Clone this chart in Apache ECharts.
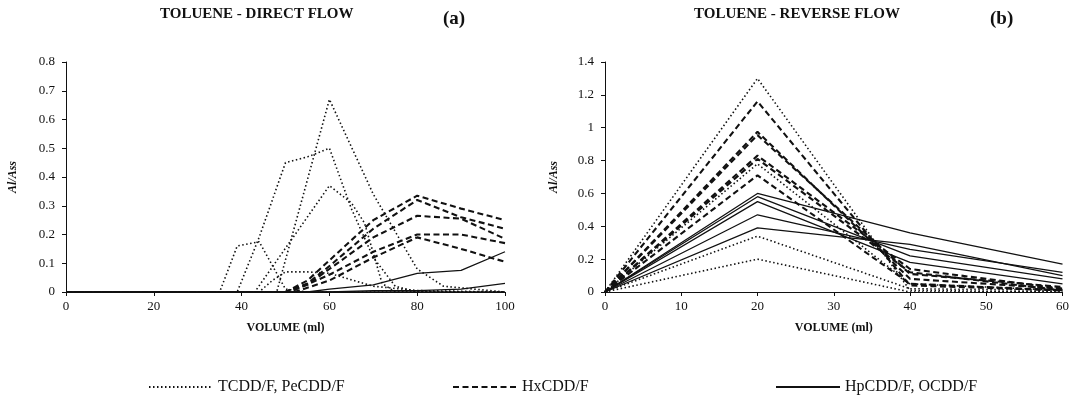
<!DOCTYPE html>
<html>
<head>
<meta charset="utf-8">
<title>Toluene flow</title>
<script src="https://cdn.jsdelivr.net/npm/echarts@6/dist/echarts.min.js"></script>
<style>
  html, body { margin: 0; padding: 0; background: #fff; }
  #chart { width: 1072px; height: 418px; }
</style>
</head>
<body>
<div id="chart"></div>
<script>
// (a) direct flow - [volume, Al/Ass] pairs
const aTcdd1 = [[0, 0], [35, 0], [39, 0.16], [44, 0.175], [50, 0.01], [55, 0], [100, 0]]
const aTcdd2 = [[0, 0], [39, 0], [44, 0.19], [50, 0.45], [55, 0.47], [60, 0.5], [65, 0.29], [70, 0.12], [75, 0.02], [80, 0], [100, 0]]
const aTcdd3 = [[0, 0], [48, 0], [60, 0.67], [70, 0.34], [80, 0.08], [86, 0.02], [100, 0]]
const aTcdd4 = [[0, 0], [43, 0], [60, 0.37], [65, 0.31], [68, 0.24], [72, 0.03], [75, 0], [100, 0]]
const aTcdd5 = [[0, 0], [44, 0], [47, 0.04], [50, 0.07], [55, 0.07], [60, 0.065], [70, 0.02], [80, 0.005], [100, 0]]

const aHx1 = [[0, 0], [50, 0], [55, 0.04], [60, 0.11], [70, 0.25], [80, 0.335], [90, 0.29], [100, 0.25]]
const aHx2 = [[0, 0], [50, 0], [55, 0.03], [60, 0.09], [70, 0.22], [80, 0.32], [90, 0.26], [100, 0.22]]
const aHx3 = [[0, 0], [50, 0], [55, 0.025], [60, 0.08], [70, 0.19], [80, 0.265], [90, 0.255], [100, 0.185]]
const aHx4 = [[0, 0], [51, 0], [60, 0.06], [70, 0.14], [80, 0.2], [90, 0.2], [100, 0.17]]
const aHx5 = [[0, 0], [52, 0], [60, 0.04], [70, 0.12], [80, 0.19], [90, 0.15], [100, 0.105]]

const aHp1 = [[0, 0], [55, 0], [60, 0.01], [70, 0.025], [80, 0.065], [90, 0.075], [100, 0.14]]
const aHp2 = [[0, 0], [60, 0], [70, 0.005], [80, 0.005], [90, 0.01], [100, 0.03]]
const aHp3 = [[0, 0], [100, 0]]

// (b) reverse flow - same volumes for every series
const volB = [0, 20, 40, 60]
const bTcdd1 = [0, 1.3, 0.01, 0]
const bTcdd2 = [0, 0.78, 0.05, 0.01]
const bTcdd3 = [0, 0.34, 0.02, 0.01]
const bTcdd4 = [0, 0.2, 0, 0]

const bHx1 = [0, 1.16, 0.04, 0.01]
const bHx2 = [0, 0.975, 0.08, 0.02]
const bHx3 = [0, 0.955, 0.11, 0.03]
const bHx4 = [0, 0.83, 0.14, 0.02]
const bHx5 = [0, 0.81, 0.12, 0.01]
const bHx6 = [0, 0.71, 0.05, 0.01]

const bHp1 = [0, 0.6, 0.36, 0.17]
const bHp2 = [0, 0.58, 0.22, 0.08]
const bHp3 = [0, 0.55, 0.18, 0.05]
const bHp4 = [0, 0.47, 0.26, 0.12]
const bHp5 = [0, 0.39, 0.29, 0.1]

const names = ['TCDD/F, PeCDD/F', 'HxCDD/F', 'HpCDD/F, OCDD/F']

const FONT = 'Liberation Serif'
const INK = '#111'

const styles = {
  dot: { color: INK, width: 1.6, type: [1.5, 2.5] },
  dash: { color: INK, width: 2.1, type: [6, 3.5] },
  solid: { color: INK, width: 1.3, type: 'solid' }
}

function mkSeries(name, kind, grid, data){
  return {
    name: name,
    type: 'line',
    xAxisIndex: grid,
    yAxisIndex: grid,
    data: data,
    symbol: 'none',
    silent: true,
    lineStyle: styles[kind],
    itemStyle: { color: INK }
  }
}

function pairUp(ys){
  return volB.map((v, i) => [v, ys[i]])
}

const seriesArr = []
;[aTcdd1, aTcdd2, aTcdd3, aTcdd4, aTcdd5].forEach(d => seriesArr.push(mkSeries(names[0], 'dot', 0, d)))
;[aHx1, aHx2, aHx3, aHx4, aHx5].forEach(d => seriesArr.push(mkSeries(names[1], 'dash', 0, d)))
;[aHp1, aHp2, aHp3].forEach(d => seriesArr.push(mkSeries(names[2], 'solid', 0, d)))
;[bTcdd1, bTcdd2, bTcdd3, bTcdd4].forEach(d => seriesArr.push(mkSeries(names[0], 'dot', 1, pairUp(d))))
;[bHx1, bHx2, bHx3, bHx4, bHx5, bHx6].forEach(d => seriesArr.push(mkSeries(names[1], 'dash', 1, pairUp(d))))
;[bHp1, bHp2, bHp3, bHp4, bHp5].forEach(d => seriesArr.push(mkSeries(names[2], 'solid', 1, pairUp(d))))

function xAxisOf(grid, max, step){
  return {
    gridIndex: grid,
    type: 'value',
    min: 0,
    max: max,
    interval: step,
    name: 'VOLUME (ml)',
    nameLocation: 'middle',
    nameGap: 30,
    nameTextStyle: { fontFamily: FONT, fontSize: 12, fontWeight: 'bold', color: INK },
    axisLine: { show: true, lineStyle: { color: INK, width: 1 } },
    axisTick: { show: true, length: 4, lineStyle: { color: INK } },
    axisLabel: { fontFamily: FONT, fontSize: 13, color: INK, margin: 8 },
    splitLine: { show: false }
  }
}

function yAxisOf(grid, max, step, gap){
  return {
    gridIndex: grid,
    type: 'value',
    min: 0,
    max: max,
    interval: step,
    name: 'Al/Ass',
    nameLocation: 'middle',
    nameRotate: 90,
    nameGap: gap,
    nameTextStyle: { fontFamily: FONT, fontSize: 12, fontWeight: 'bold', fontStyle: 'italic', color: INK },
    axisLine: { show: true, lineStyle: { color: INK, width: 1 } },
    axisTick: { show: true, length: 4, lineStyle: { color: INK } },
    axisLabel: { fontFamily: FONT, fontSize: 13, color: INK, margin: 11 },
    splitLine: { show: false }
  }
}

function legendOf(name, left){
  return {
    data: [name],
    left: left,
    top: 374,
    itemWidth: 64,
    itemHeight: 10,
    itemGap: 0,
    selectedMode: false,
    itemStyle: { opacity: 0 },
    textStyle: { fontFamily: FONT, fontSize: 16, color: INK }
  }
}

function label(text, x, y, size){
  return {
    type: 'text',
    left: x,
    top: y,
    style: { text: text, fontFamily: FONT, fontSize: size, fontWeight: 'bold', fill: INK }
  }
}

const chart = echarts.init(document.getElementById('chart'))
chart.setOption({
  animation: false,
  backgroundColor: '#fff',
  grid: [
    { left: 66, top: 62, width: 439, height: 230 },
    { left: 605, top: 62, width: 458, height: 230 }
  ],
  xAxis: [xAxisOf(0, 100, 20), xAxisOf(1, 60, 10)],
  yAxis: [yAxisOf(0, 0.8, 0.1, 47), yAxisOf(1, 1.4, 0.2, 45)],
  legend: [legendOf(names[0], 143), legendOf(names[1], 447), legendOf(names[2], 770)],
  graphic: [
    label('TOLUENE - DIRECT FLOW', 160, 7, 15),
    label('(a)', 443, 10, 19),
    label('TOLUENE - REVERSE FLOW', 694, 7, 15),
    label('(b)', 990, 10, 19)
  ],
  series: seriesArr
})
</script>
</body>
</html>
